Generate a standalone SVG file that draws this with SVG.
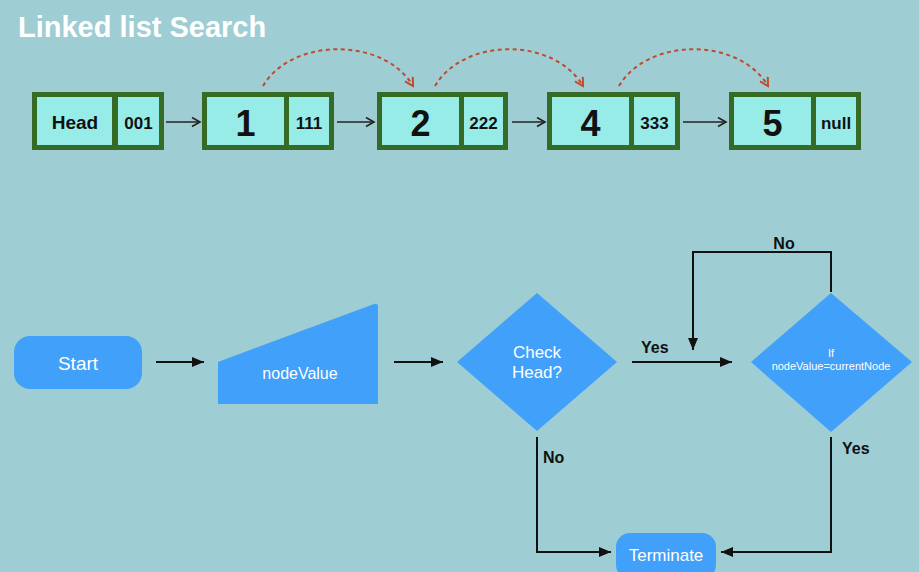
<svg xmlns="http://www.w3.org/2000/svg" width="919" height="572" viewBox="0 0 919 572">
<defs>
<style>
.frame{fill:#356b25}
.cell{fill:#97ece8}
.t{font-family:"Liberation Sans",Arial,sans-serif;text-anchor:middle}
.big{font-size:36px;font-weight:bold;fill:#111}
.sm{font-size:17px;font-weight:bold;fill:#111}
.wt{fill:#fff}
.blue{fill:#41a0fa}
.lbl{font-family:"Liberation Sans",Arial,sans-serif;font-size:16px;font-weight:bold;fill:#111}
.lk{fill:none;stroke:#222;stroke-width:1.6}
.dash{fill:none;stroke:#c04a2c;stroke-width:2;stroke-dasharray:4 3.5}
.fl{fill:none;stroke:#111;stroke-width:2}
</style>
<marker id="open" markerUnits="userSpaceOnUse" markerWidth="12" markerHeight="12" refX="9" refY="5" orient="auto">
<path d="M1,0.5 L9,5 L1,9.5" fill="none" stroke="#222" stroke-width="1.6"/>
</marker>
<marker id="red" markerUnits="userSpaceOnUse" markerWidth="12" markerHeight="12" refX="9" refY="5" orient="auto">
<path d="M1,0.5 L9,5 L1,9.5" fill="none" stroke="#c04a2c" stroke-width="2"/>
</marker>
<marker id="solid" markerUnits="userSpaceOnUse" markerWidth="14" markerHeight="12" refX="12" refY="5" orient="auto">
<path d="M0,0 L12,5 L0,10 z" fill="#111"/>
</marker>
</defs>
<rect width="919" height="572" fill="#9fcdd4"/>
<text x="18" y="37" font-family="Liberation Sans,Arial,sans-serif" font-size="29" font-weight="bold" fill="#fff">Linked list Search</text>

<g id="node-head">
<rect class="frame" x="32" y="92" width="132" height="58"/>
<rect class="cell" x="37" y="97" width="75" height="48"/>
<rect class="cell" x="118" y="97" width="41" height="48"/>
<text class="t sm" x="75" y="129" font-size="19" style="font-size:19px">Head</text>
<text class="t sm" x="138.5" y="129">001</text>
</g>
<g id="node-1">
<rect class="frame" x="202" y="92" width="132" height="58"/>
<rect class="cell" x="207" y="97" width="77" height="48"/>
<rect class="cell" x="289" y="97" width="40" height="48"/>
<text class="t big" x="245.5" y="136">1</text>
<text class="t sm" x="309" y="129">111</text>
</g>
<g id="node-2">
<rect class="frame" x="377" y="92" width="131" height="58"/>
<rect class="cell" x="382" y="97" width="77" height="48"/>
<rect class="cell" x="464" y="97" width="39" height="48"/>
<text class="t big" x="420.5" y="136">2</text>
<text class="t sm" x="483.5" y="129">222</text>
</g>
<g id="node-4">
<rect class="frame" x="547" y="92" width="133" height="58"/>
<rect class="cell" x="552" y="97" width="77" height="48"/>
<rect class="cell" x="634" y="97" width="41" height="48"/>
<text class="t big" x="590.5" y="136">4</text>
<text class="t sm" x="654.5" y="129">333</text>
</g>
<g id="node-5">
<rect class="frame" x="729" y="92" width="132" height="58"/>
<rect class="cell" x="734" y="97" width="77" height="48"/>
<rect class="cell" x="816" y="97" width="40" height="48"/>
<text class="t big" x="772.5" y="136">5</text>
<text class="t sm" x="836" y="129">null</text>
</g>

<g id="flow-start">
<rect class="blue" x="14" y="336" width="128" height="53" rx="16"/>
<text class="t wt" x="78" y="370" font-size="19">Start</text>
</g>
<g id="flow-input">
<path class="blue" d="M218,362 L374,304 Q378,303 378,307 L378,404 L218,404 z"/>
<text class="t wt" x="300" y="379" font-size="16">nodeValue</text>
</g>
<g id="flow-check">
<path class="blue" d="M537,293 L617,362 L537,431 L457,362 z"/>
<text class="t wt" x="537" y="358" font-size="17">Check</text>
<text class="t wt" x="537" y="378" font-size="17">Head?</text>
</g>
<g id="flow-if">
<path class="blue" d="M831,293 L912,362 L831,432 L751,362 z"/>
<text class="t wt" x="831" y="357" font-size="11">If</text>
<text class="t wt" x="831" y="370" font-size="11">nodeValue=currentNode</text>
</g>
<g id="flow-terminate">
<rect class="blue" x="616" y="533" width="100" height="46" rx="14"/>
<text class="t wt" x="666" y="561" font-size="17">Terminate</text>
</g>

<g id="connectors">
<line class="lk" x1="166" y1="122" x2="200" y2="122" marker-end="url(#open)"/>
<line class="lk" x1="337" y1="122" x2="374" y2="122" marker-end="url(#open)"/>
<line class="lk" x1="512" y1="122" x2="545" y2="122" marker-end="url(#open)"/>
<line class="lk" x1="683" y1="122" x2="726" y2="122" marker-end="url(#open)"/>
<path class="dash" d="M263,86 C292,37 384,37 413,86" marker-end="url(#red)"/>
<path class="dash" d="M435,86 C464,37 554,37 583,86" marker-end="url(#red)"/>
<path class="dash" d="M619,86 C648,37 739,37 768,86" marker-end="url(#red)"/>

<line class="fl" x1="156" y1="362" x2="204" y2="362" marker-end="url(#solid)"/>
<line class="fl" x1="394" y1="362" x2="443" y2="362" marker-end="url(#solid)"/>
<line class="fl" x1="632" y1="362" x2="732" y2="362" marker-end="url(#solid)"/>
<text class="lbl" x="641" y="353">Yes</text>
<path class="fl" d="M831,292 L831,252 L693,252 L693,350" marker-end="url(#solid)"/>
<text class="lbl" x="784" y="249" text-anchor="middle">No</text>
<path class="fl" d="M537,437 L537,552 L611,552" marker-end="url(#solid)"/>
<text class="lbl" x="543" y="463">No</text>
<path class="fl" d="M831,437 L831,552 L721,552" marker-end="url(#solid)"/>
<text class="lbl" x="842" y="454">Yes</text>
</g>
</svg>
